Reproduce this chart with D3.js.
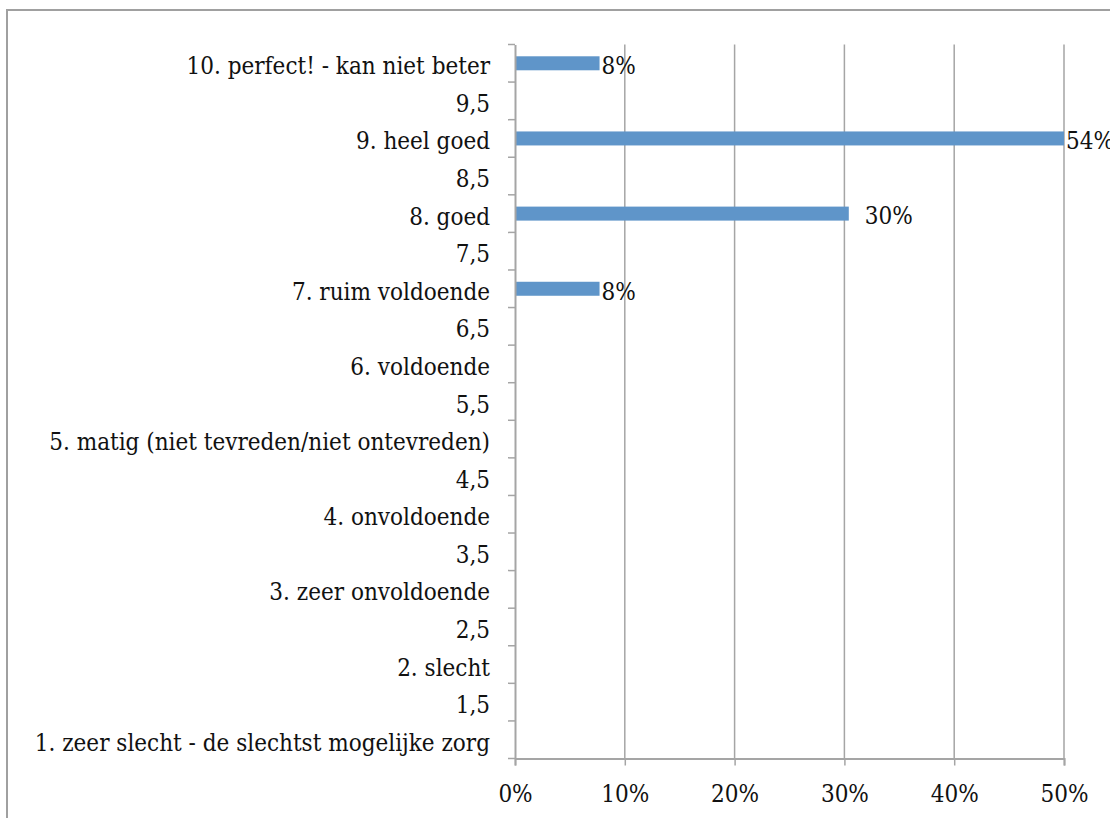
<!DOCTYPE html>
<html>
<head>
<meta charset="utf-8">
<script src="https://cdn.jsdelivr.net/npm/d3@7"></script>
<style>
  html, body { margin: 0; padding: 0; background: #fff; }
  svg { display: block; }
  text { font-family: "DejaVu Serif Condensed", "DejaVu Serif", "Liberation Serif", serif; font-stretch: condensed; fill: #111; }
</style>
</head>
<body>
<svg id="chart" width="1110" height="818"></svg>
<script>
// Rating categories, top row first
const categories = [
  "10. perfect! - kan niet beter",
  "9,5",
  "9. heel goed",
  "8,5",
  "8. goed",
  "7,5",
  "7. ruim voldoende",
  "6,5",
  "6. voldoende",
  "5,5",
  "5. matig (niet tevreden/niet ontevreden)",
  "4,5",
  "4. onvoldoende",
  "3,5",
  "3. zeer onvoldoende",
  "2,5",
  "2. slecht",
  "1,5",
  "1. zeer slecht - de slechtst mogelijke zorg"
];

// Share of responses per category (null = no answers)
const shares = [0.077, null, 0.538, null, 0.304, null, 0.077, null, null, null,
                null, null, null, null, null, null, null, null, null];

// Percentage axis ticks
const xTicks = [0, 0.1, 0.2, 0.3, 0.4, 0.5];

const svg = d3.select("#chart");
const W = 1110, H = 818;
const plot = { left: 515, right: 1064, top: 44.5, bottom: 758.5 };
const gridColor = "#a5a5a5";
const barColor = "#5f95c9";
const fontSize = 24;

// Outer chart frame
svg.append("rect")
  .attr("x", 7).attr("y", 10)
  .attr("width", W + 20).attr("height", H + 20)
  .attr("fill", "none").attr("stroke", "#a0a0a0").attr("stroke-width", 2);

const x = d3.scaleLinear().domain([0, 0.5]).range([plot.left, plot.right]);
const y = d3.scaleBand().domain(categories).range([plot.top, plot.bottom]);

// Vertical gridlines
svg.append("g").selectAll("line")
  .data(xTicks.slice(1))
  .join("line")
  .attr("x1", d => x(d)).attr("x2", d => x(d))
  .attr("y1", plot.top).attr("y2", plot.bottom)
  .attr("stroke", gridColor).attr("stroke-width", 1.5);

// Bars, clipped to the plot area
svg.append("clipPath").attr("id", "plotClip")
  .append("rect")
  .attr("x", plot.left).attr("y", plot.top)
  .attr("width", plot.right - plot.left).attr("height", plot.bottom - plot.top);

const rows = categories.map((c, i) => ({ c, v: shares[i] })).filter(d => d.v != null);
const barH = 14;

svg.append("g").attr("clip-path", "url(#plotClip)")
  .selectAll("rect")
  .data(rows)
  .join("rect")
  .attr("x", x(0))
  .attr("y", d => y(d.c) + y.bandwidth() / 2 - barH / 2)
  .attr("width", d => x(d.v) - x(0))
  .attr("height", barH)
  .attr("fill", barColor);

// Value labels at the bar ends
const fmt = d3.format(".0%");
const labelGap = { "8. goed": 16 };
svg.append("g").selectAll("text")
  .data(rows)
  .join("text")
  .attr("x", d => Math.min(x(d.v), plot.right) + (labelGap[d.c] ?? 2))
  .attr("y", d => y(d.c) + y.bandwidth() / 2)
  .attr("dy", "0.45em")
  .attr("font-size", fontSize)
  .text(d => fmt(d.v));

// Category axis
const yAxis = svg.append("g")
  .attr("transform", `translate(${plot.left},0)`)
  .call(d3.axisLeft(y).tickSize(0).tickPadding(25));
yAxis.select(".domain").attr("stroke", gridColor).attr("stroke-width", 2);
yAxis.selectAll("text")
  .attr("font-size", fontSize).attr("font-family", null).attr("fill", "#111")
  .attr("dy", "0.46em");

// Boundary tick marks between categories
const bounds = d3.range(categories.length + 1).map(i => plot.top + i * y.step());
svg.append("g").selectAll("line")
  .data(bounds)
  .join("line")
  .attr("x1", plot.left - 7).attr("x2", plot.left)
  .attr("y1", d => d).attr("y2", d => d)
  .attr("stroke", gridColor).attr("stroke-width", 1.5);

// Percentage axis
const xAxis = svg.append("g")
  .attr("transform", `translate(0,${plot.bottom})`)
  .call(d3.axisBottom(x).tickValues(xTicks).tickFormat(fmt).tickSize(7).tickPadding(19));
xAxis.select(".domain").attr("stroke", gridColor).attr("stroke-width", 2);
xAxis.selectAll(".tick line").attr("stroke", gridColor).attr("stroke-width", 1.5);
xAxis.selectAll("text").attr("font-size", fontSize).attr("font-family", null).attr("fill", "#111");
</script>
</body>
</html>
